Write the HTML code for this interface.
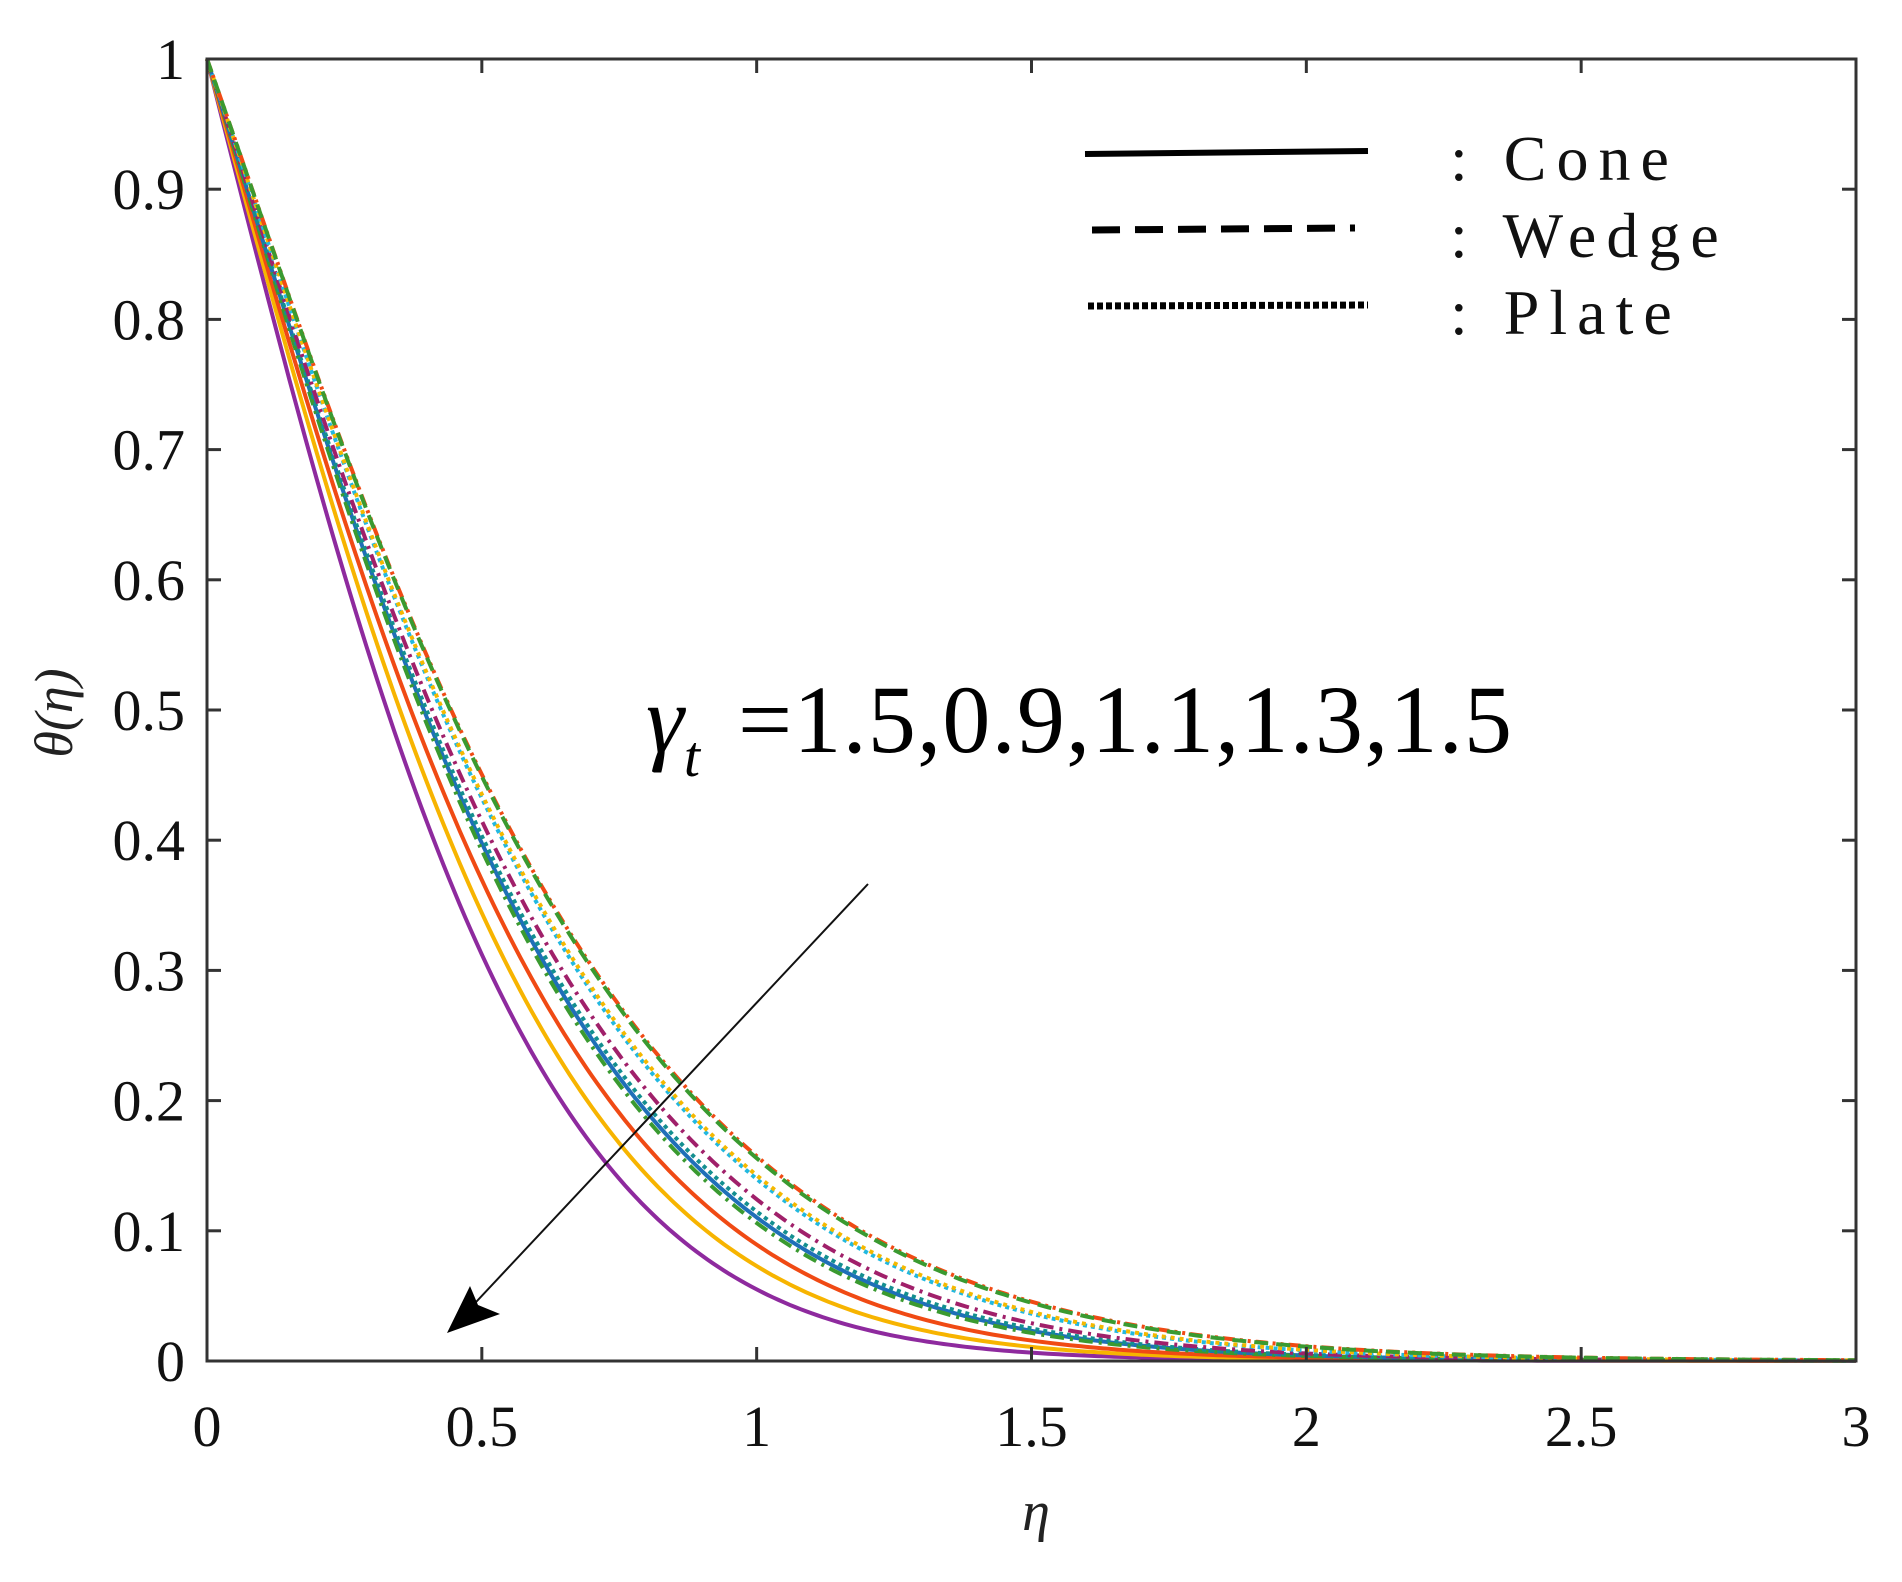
<!DOCTYPE html>
<html><head><meta charset="utf-8"><style>
html,body{margin:0;padding:0;background:#fff;}
svg{display:block;font-family:"Liberation Serif",serif;}
</style></head><body>
<svg id="s" width="1902" height="1582" viewBox="0 0 1902 1582" xmlns="http://www.w3.org/2000/svg">
<g id="curves"></g>
<g id="axes" stroke="#333" stroke-width="3" fill="none"></g>
<g id="labels" font-size="58" fill="#111"></g>
<text x="1036" y="1530" font-size="56" font-style="italic" text-anchor="middle" fill="#222">η</text>
<text transform="translate(72,713) rotate(-90)" font-size="54" font-style="italic" text-anchor="middle" fill="#222">θ(η)</text>
<line x1="1085" y1="154" x2="1368" y2="151" stroke="#000" stroke-width="6"/>
<line x1="1092" y1="230" x2="1355" y2="228" stroke="#000" stroke-width="7" stroke-dasharray="28,15"/>
<line x1="1088" y1="306" x2="1368" y2="305" stroke="#000" stroke-width="7" stroke-dasharray="6,3"/>
<g font-size="64" letter-spacing="10" fill="#111">
<text x="1450" y="180">: Cone</text>
<text x="1450" y="257">: Wedge</text>
<text x="1450" y="334">: Plate</text>
</g>
<text x="646" y="752" font-size="96" fill="#000"><tspan font-style="italic">γ</tspan><tspan font-style="italic" font-size="58" dy="24">t</tspan></text>
<text x="738" y="752" font-size="96" fill="#000" textLength="774" lengthAdjust="spacing">=1.5,0.9,1.1,1.3,1.5</text>
<line x1="868" y1="884" x2="462" y2="1317" stroke="#111" stroke-width="2"/>
<polygon points="447,1333 470,1286 478,1305 500,1314" fill="#000"/>
</svg>
<script>
const L=207,R=1856,T=59,B=1361;
const X=v=>L+v/3*(R-L), Y=v=>B-v*(B-T);
const ns="http://www.w3.org/2000/svg";
const cg=document.getElementById('curves');
const curves=[
 [3.0,'#8e2a9e','' ],
 [2.73,'#f7b400','' ],
 [2.53,'#f04a14','' ],
 [2.32,'#1f6fb8','' ],
 [2.36,'#3a9a30','14,6,3,6'],
 [2.28,'#138f8f','4,4'],
 [2.2,'#a0206a','14,6,3,6'],
 [2.08,'#22b8e0','4,4'],
 [2.06,'#f5b800','4,5'],
 [1.96,'#f04a14','12,5,3,5,3,5'],
 [1.97,'#3a9a30','14,8'],
];
curves.forEach(c=>{
 const t=(c[0]-1.966)/(3-1.966), a=1.56+0.26*t, b=0.41+0.77*t;
 let d='';
 for(let i=0;i<=300;i++){const e=i/100;let th=Math.exp(-a*e-b*e*e);
  // heavier tail
  const tail=Math.exp(-(a+0.35)*e)*(1-Math.exp(-3*e))*0.12*(1-0.6*t);
  th=th+tail;
  d+=(i?'L':'M')+X(e).toFixed(1)+','+Y(th).toFixed(1);}
 const p=document.createElementNS(ns,'path');
 p.setAttribute('d',d);p.setAttribute('fill','none');p.setAttribute('stroke',c[1]);p.setAttribute('stroke-width','4');
 if(c[2])p.setAttribute('stroke-dasharray',c[2]);
 cg.appendChild(p);
});
const ax=document.getElementById('axes');
function ln(a,b,c,d){const l=document.createElementNS(ns,'line');l.setAttribute('x1',a);l.setAttribute('y1',b);l.setAttribute('x2',c);l.setAttribute('y2',d);ax.appendChild(l);}
const r=document.createElementNS(ns,'rect');r.setAttribute('x',L);r.setAttribute('y',T);r.setAttribute('width',R-L);r.setAttribute('height',B-T);ax.appendChild(r);
const lg=document.getElementById('labels');
function tx(x,y,s,anc){const t=document.createElementNS(ns,'text');t.setAttribute('x',x);t.setAttribute('y',y);t.setAttribute('text-anchor',anc);t.textContent=s;lg.appendChild(t);}
for(let i=0;i<=6;i++){const v=i*0.5,x=X(v);ln(x,B,x,B-14);ln(x,T,x,T+14);tx(x,1446,String(v),'middle');}
for(let i=0;i<=10;i++){const v=i/10,y=Y(v);ln(L,y,L+14,y);ln(R,y,R-14,y);tx(185,y+20,i==10?'1':(i==0?'0':v.toFixed(1)),'end');}
</script>
</body></html>
